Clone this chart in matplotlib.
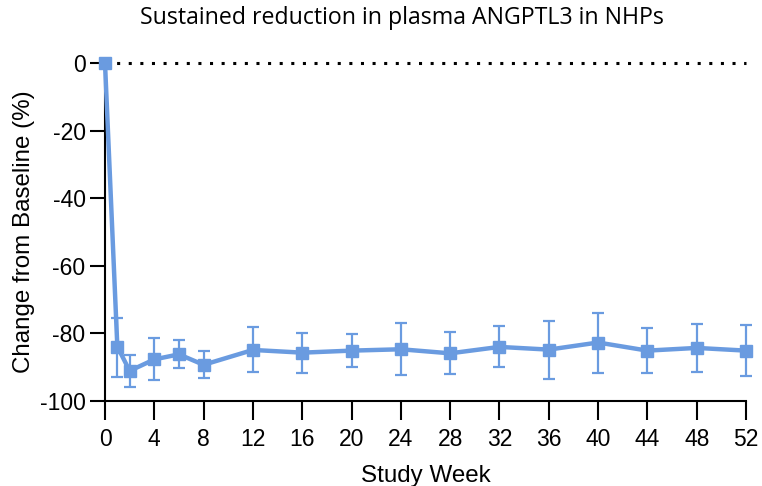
import matplotlib
matplotlib.use("Agg")
import matplotlib.pyplot as plt

weeks = [0, 1, 2, 4, 6, 8, 12, 16, 20, 24, 28, 32, 36, 40, 44, 48, 52]
change = [0, -83.9, -91.1, -87.7, -86.2, -89.3, -84.9, -85.7, -85.1, -84.7,
          -85.9, -84.0, -84.8, -82.7, -85.1, -84.3, -85.1]
err_up = [0, 8.5, 4.8, 6.2, 4.2, 4.1, 6.7, 5.7, 5.0, 7.8, 6.2, 6.1, 8.5, 8.7, 6.6, 7.1, 7.5]
err_down = [0, 8.9, 4.7, 6.1, 4.1, 4.0, 6.4, 5.9, 4.8, 7.7, 6.1, 6.0, 8.6, 8.9, 6.5, 7.1, 7.5]
xticks = list(range(0, 53, 4))
yticks = [0, -20, -40, -60, -80, -100]

color = "#6A9BE0"

plt.rcParams['font.family'] = ['Liberation Sans', 'DejaVu Sans']
plt.rcParams['axes.unicode_minus'] = False
fig = plt.figure(figsize=(7.62, 4.86), dpi=100)
ax = fig.add_axes([0.1378, 0.175, 0.8412, 0.695])

ax.plot([0, 52], [0, 0], linestyle=(0, (1, 2.8)), color="black", lw=2.2, clip_on=False, zorder=1)
ax.errorbar(weeks[1:], change[1:], yerr=[err_down[1:], err_up[1:]], fmt="none",
            ecolor=color, elinewidth=1.6, capsize=4, capthick=1.6, clip_on=False, zorder=2)
ax.plot(weeks, change, color=color, lw=3.2, marker="s", markersize=8.5,
        clip_on=False, zorder=3)

ax.set_xlim(0, 52)
ax.set_ylim(-100, 0)
ax.set_xticks(xticks)
ax.set_yticks(yticks)
ax.tick_params(axis="both", direction="out", width=1.5, labelsize=16.5)
ax.tick_params(axis="x", length=13.5, pad=6)
ax.tick_params(axis="y", length=10.5, pad=3.5)
for s in ["top", "right"]:
    ax.spines[s].set_visible(False)
for s in ["left", "bottom"]:
    ax.spines[s].set_linewidth(1.5)

ax.set_xlabel("Study Week", fontsize=17.4)
ax.set_ylabel("Change from Baseline (%)", fontsize=17.4)
ax.xaxis.set_label_coords(0.5, -0.19)
ax.yaxis.set_label_coords(-0.109, 0.501)
fig.text(0.528, 0.962, "Sustained reduction in plasma ANGPTL3 in NHPs",
         ha="center", va="center", fontsize=16.7, family=["Open Sans", "DejaVu Sans"])

fig.savefig("out.png", dpi=100)
